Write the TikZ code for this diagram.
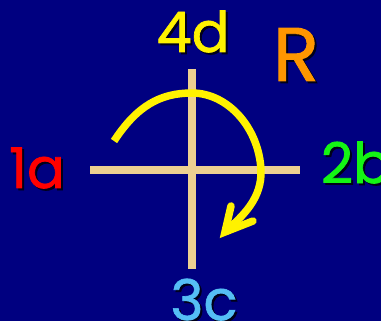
\documentclass[tikz,border=0pt]{standalone}
\usepackage{fontspec}
\setmainfont{Poppins}[FakeBold=1.2,BoldFont={Poppins}]
\definecolor{bg}{RGB}{0,0,128}
\definecolor{axis}{RGB}{236,208,145}
\definecolor{lblue}{RGB}{85,190,245}
\definecolor{lgreen}{RGB}{20,245,20}
\definecolor{orng}{RGB}{255,150,0}
\begin{document}
\begin{tikzpicture}[x=1pt,y=-1pt,
  axisline/.style={draw=axis,line width=7.5pt},
  rotarrow/.style={draw=yellow,line width=7.5pt},
  lbl/.style={anchor=base,inner sep=0pt}]
\fill[bg] (0,0) rectangle (381,321);
\useasboundingbox (0,0) rectangle (381,321);
% axes
\coordinate (L) at (90,170);
\coordinate (Rr) at (300,170);
\coordinate (T) at (192,69);
\coordinate (B) at (192,269);
\draw[axisline] (L) -- (Rr);
\draw[axisline] (T) -- (B);
% rotation arrow
\coordinate (s) at (114,141);
\coordinate (top) at (192,93);
\coordinate (rt) at (261,170);
\coordinate (tip) at (225,232);
\draw[rotarrow,line cap=butt] (s) .. controls (137,106) and (160,93) .. (top)
  .. controls (228,93) and (259,128) .. (rt)
  .. controls (262,198) and (244,215) .. (tip);
\coordinate (a1) at (231,206);
\coordinate (a2) at (253,221);
\draw[rotarrow,line cap=round,line join=miter] (a1) -- (tip) -- (a2);
% labels with shadows
\foreach \t/\c/\x/\y/\s in {1a/red/37/188/56, 4d/yellow/193/52/56, 2b/lgreen/356/183/56, 3c/lblue/204/320/56, R/orng/296/81/76}{
  \node[lbl,text=black!80!bg,font=\fontsize{\s}{\s}\selectfont\bfseries] at (\x+2,\y+2) {\t};
  \node[lbl,text=\c,font=\fontsize{\s}{\s}\selectfont\bfseries] (n\t) at (\x,\y) {\t};
}
\end{tikzpicture}
\end{document}
